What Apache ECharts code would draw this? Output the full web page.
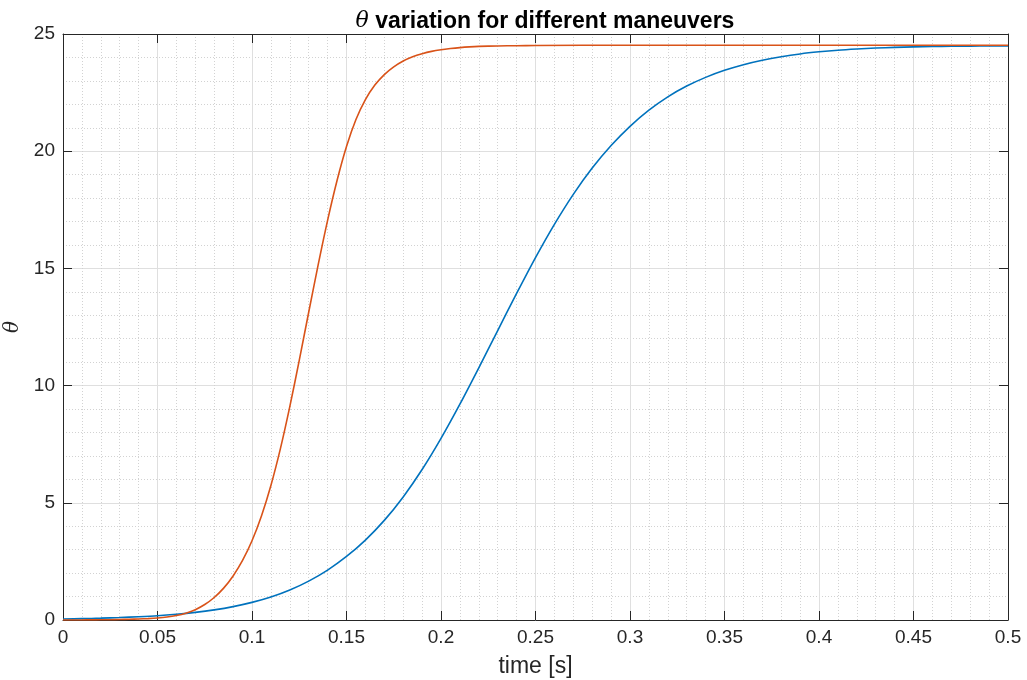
<!DOCTYPE html>
<html>
<head>
<meta charset="utf-8">
<script src="https://cdn.jsdelivr.net/npm/echarts@6/dist/echarts.min.js"></script>
<style>
  html, body { margin: 0; padding: 0; background: #fff; }
  #chart { width: 1027px; height: 680px; }
</style>
</head>
<body>
<div id="chart"></div>
<script>
// slower maneuver (blue), sampled every 0.01 s
var timeSlow = [0, 0.01, 0.02, 0.03, 0.04, 0.05, 0.06, 0.07, 0.08, 0.09,
    0.1, 0.11, 0.12, 0.13, 0.14, 0.15, 0.16, 0.17, 0.18, 0.19,
    0.2, 0.21, 0.22, 0.23, 0.24, 0.25, 0.26, 0.27, 0.28, 0.29,
    0.3, 0.31, 0.32, 0.33, 0.34, 0.35, 0.36, 0.37, 0.38, 0.39,
    0.4, 0.41, 0.42, 0.43, 0.44, 0.45, 0.46, 0.47, 0.48, 0.49, 0.5];
var thetaSlow = [0.04, 0.057, 0.078, 0.105, 0.138, 0.18, 0.243, 0.325, 0.432, 0.571,
    0.751, 0.98, 1.28, 1.66, 2.13, 2.71, 3.41, 4.25, 5.25, 6.42,
    7.75, 9.21, 10.76, 12.35, 13.93, 15.46, 16.88, 18.16, 19.28, 20.24,
    21.06, 21.75, 22.32, 22.78, 23.15, 23.45, 23.69, 23.88, 24.03, 24.15,
    24.24, 24.31, 24.36, 24.4, 24.43, 24.45, 24.465, 24.475, 24.483, 24.488, 24.492];

// faster maneuver (orange), sampled every 0.005 s through the rise
var timeFast = [0, 0.005, 0.01, 0.015, 0.02, 0.025, 0.03, 0.035, 0.04, 0.045,
    0.05, 0.055, 0.06, 0.065, 0.07, 0.075, 0.08, 0.085, 0.09, 0.095,
    0.1, 0.105, 0.11, 0.115, 0.12, 0.125, 0.13, 0.135, 0.14, 0.145,
    0.15, 0.155, 0.16, 0.165, 0.17, 0.175, 0.18, 0.185, 0.19, 0.195,
    0.2, 0.205, 0.21, 0.215, 0.22, 0.23, 0.24, 0.25, 0.3, 0.35, 0.4, 0.45, 0.5];
var thetaFast = [0, 0.001, 0.003, 0.005, 0.008, 0.013, 0.02, 0.03, 0.042, 0.06,
    0.085, 0.125, 0.19, 0.29, 0.44, 0.66, 0.96, 1.36, 1.88, 2.54,
    3.38, 4.44, 5.74, 7.3, 9.1, 11.08, 13.13, 15.15, 17.05, 18.75,
    20.2, 21.35, 22.2, 22.82, 23.27, 23.6, 23.85, 24.03, 24.16, 24.26,
    24.33, 24.38, 24.42, 24.45, 24.47, 24.49, 24.5, 24.51, 24.52, 24.52, 24.52, 24.52, 24.52];

function pairs(xs, ys) {
    return xs.map(function (x, i) { return [x, ys[i]]; });
}

var chart = echarts.init(document.getElementById('chart'));
var font = 'Liberation Sans, Arial, Helvetica, sans-serif';
var boxColor = '#262626';

var majorGrid = { show: true, lineStyle: { color: '#dfdfdf', width: 1 } };
var minorGrid = { show: true, lineStyle: { color: '#d2d2d2', width: 1, type: [1, 2] } };

var option = {
    animation: false,
    title: {
        text: '{th|θ} variation for different maneuvers',
        left: 540, top: 5, textAlign: 'center',
        textStyle: {
            fontFamily: font, fontSize: 23, fontWeight: 'bold', color: '#000',
            rich: {
                th: { fontFamily: 'DejaVu Serif, serif', fontStyle: 'italic', fontWeight: 'normal', fontSize: 22, color: '#000' }
            }
        }
    },
    grid: { left: 63, right: 19, top: 34, bottom: 60, outerBoundsMode: 'none', containLabel: false },
    xAxis: [{
        type: 'value', min: 0, max: 0.5, interval: 0.05,
        name: 'time [s]', nameLocation: 'middle', nameGap: 35,
        nameTextStyle: { fontFamily: font, fontSize: 23, color: boxColor },
        axisLine: { show: true, onZero: false, lineStyle: { color: boxColor } },
        axisTick: { show: true, inside: true, length: 9, lineStyle: { color: boxColor } },
        axisLabel: { fontFamily: font, fontSize: 19, color: boxColor, margin: 8,
            formatter: function (v) { return +v.toFixed(2) + ''; } },
        splitLine: majorGrid,
        minorTick: { show: false, splitNumber: 5 },
        minorSplitLine: minorGrid
    }, {
        type: 'value', position: 'top', min: 0, max: 0.5, interval: 0.05,
        axisLine: { show: true, onZero: false, lineStyle: { color: boxColor } },
        axisTick: { show: true, inside: true, length: 9, lineStyle: { color: boxColor } },
        axisLabel: { show: false },
        splitLine: { show: false }
    }],
    yAxis: [{
        type: 'value', min: 0, max: 25, interval: 5,
        name: 'θ', nameLocation: 'middle', nameGap: 30, nameRotate: 90,
        nameTextStyle: { fontFamily: 'DejaVu Serif, serif', fontStyle: 'italic', fontSize: 20, color: boxColor },
        axisLine: { show: true, onZero: false, lineStyle: { color: boxColor } },
        axisTick: { show: true, inside: true, length: 9, lineStyle: { color: boxColor } },
        axisLabel: { fontFamily: font, fontSize: 19, color: boxColor, margin: 8 },
        splitLine: majorGrid,
        minorTick: { show: false, splitNumber: 5 },
        minorSplitLine: minorGrid
    }, {
        type: 'value', position: 'right', min: 0, max: 25, interval: 5,
        axisLine: { show: true, onZero: false, lineStyle: { color: boxColor } },
        axisTick: { show: true, inside: true, length: 9, lineStyle: { color: boxColor } },
        axisLabel: { show: false },
        splitLine: { show: false }
    }],
    series: [{
        type: 'line', name: 'slow',
        data: pairs(timeSlow, thetaSlow),
        showSymbol: false, smooth: 0.3,
        lineStyle: { color: '#0072BD', width: 1.6 },
        itemStyle: { color: '#0072BD' }
    }, {
        type: 'line', name: 'fast',
        data: pairs(timeFast, thetaFast),
        showSymbol: false, smooth: 0.3,
        lineStyle: { color: '#D95319', width: 1.6 },
        itemStyle: { color: '#D95319' }
    }]
};

chart.setOption(option);
</script>
</body>
</html>
